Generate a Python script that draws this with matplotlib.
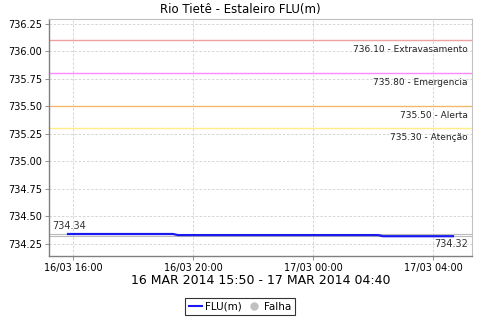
import matplotlib
matplotlib.use("Agg")
import matplotlib.pyplot as plt
import matplotlib.dates as mdates
from matplotlib.lines import Line2D
from datetime import datetime

title = "Rio Tietê - Estaleiro FLU(m)"
xlabel = "16 MAR 2014 15:50 - 17 MAR 2014 04:40"

times = ["2014-03-16 15:50", "2014-03-16 19:20", "2014-03-16 19:30",
         "2014-03-17 02:10", "2014-03-17 02:20", "2014-03-17 04:40"]
levels = [734.34, 734.34, 734.33, 734.33, 734.32, 734.32]

thr_values = [736.10, 735.80, 735.50, 735.30]
thr_names = ["Extravasamento", "Emergencia", "Alerta", "Atenção"]
thr_colors = ["#f0a0a0", "#ff88ff", "#f5b86a", "#ffee88"]

max_val = 734.34
min_val = 734.32

yticks = [734.25, 734.50, 734.75, 735.00, 735.25, 735.50, 735.75, 736.00, 736.25]
xtick_times = ["2014-03-16 16:00", "2014-03-16 20:00", "2014-03-17 00:00", "2014-03-17 04:00"]
xtick_labels = ["16/03 16:00", "16/03 20:00", "17/03 00:00", "17/03 04:00"]

fmt = "%Y-%m-%d %H:%M"
t = [datetime.strptime(s, fmt) for s in times]
xt = [datetime.strptime(s, fmt) for s in xtick_times]

fig = plt.figure(figsize=(4.8, 3.2), dpi=100)
ax = fig.add_axes([49/480, 64/320, 423/480, 237/320])

ax.set_xlim(datetime(2014, 3, 16, 15, 12), datetime(2014, 3, 17, 5, 18))
ax.set_ylim(734.14, 736.295)

ax.grid(True, color="#d0d0d0", linestyle=(0, (3, 2)), linewidth=0.6)
ax.set_axisbelow(True)

for v, n, c in zip(thr_values, thr_names, thr_colors):
    ax.axhline(v, color=c, linewidth=1.0)
    ax.annotate(f"{v:.2f} - {n}", xy=(1, v), xycoords=("axes fraction", "data"),
                xytext=(-3, -3), textcoords="offset points", ha="right", va="top",
                fontsize=6.5, color="#222222")

ax.axhline(max_val, color="#bbbbbb", linewidth=0.8)
ax.axhline(min_val, color="#bbbbbb", linewidth=0.8)
ax.annotate(f"{max_val:.2f}", xy=(0, max_val), xycoords=("axes fraction", "data"),
            xytext=(2, 2), textcoords="offset points", ha="left", va="bottom",
            fontsize=7, color="#333333")
ax.annotate(f"{min_val:.2f}", xy=(1, min_val), xycoords=("axes fraction", "data"),
            xytext=(-3, -2), textcoords="offset points", ha="right", va="top",
            fontsize=7, color="#333333")

ax.plot(t, levels, color="#1a1aee", linewidth=1.6, zorder=5)

ax.set_yticks(yticks)
ax.set_yticklabels([f"{v:.2f}" for v in yticks], fontsize=7)
ax.set_xticks(xt)
ax.set_xticklabels(xtick_labels, fontsize=7)
ax.tick_params(axis="both", length=3, width=0.6, color="#808080", pad=2)

for s in ["left", "bottom"]:
    ax.spines[s].set_color("#808080")
    ax.spines[s].set_linewidth(1.0)
for s in ["top", "right"]:
    ax.spines[s].set_color("#c0c0c0")
    ax.spines[s].set_linewidth(0.8)

fig.text(0.5, 1 - 9.5/320, title, fontsize=8.5, ha="center", va="center")
ax.set_xlabel(xlabel, fontsize=9, labelpad=1)

handles = [Line2D([0], [0], color="#1a1aee", linewidth=1.5),
           Line2D([0], [0], marker="o", color="none", markerfacecolor="#c0c0c0",
                  markeredgecolor="#c0c0c0", markersize=5)]
leg = fig.legend(handles, ["FLU(m)", "Falha"], loc="center", bbox_to_anchor=(240/480, 13.5/320),
                 ncol=2, fontsize=7.5, frameon=True, fancybox=False, edgecolor="black",
                 handlelength=1.3, handletextpad=0.3, columnspacing=0.5, borderpad=0.35,
                 borderaxespad=0)
leg.get_frame().set_linewidth(0.8)

fig.savefig("out.png", dpi=100)
